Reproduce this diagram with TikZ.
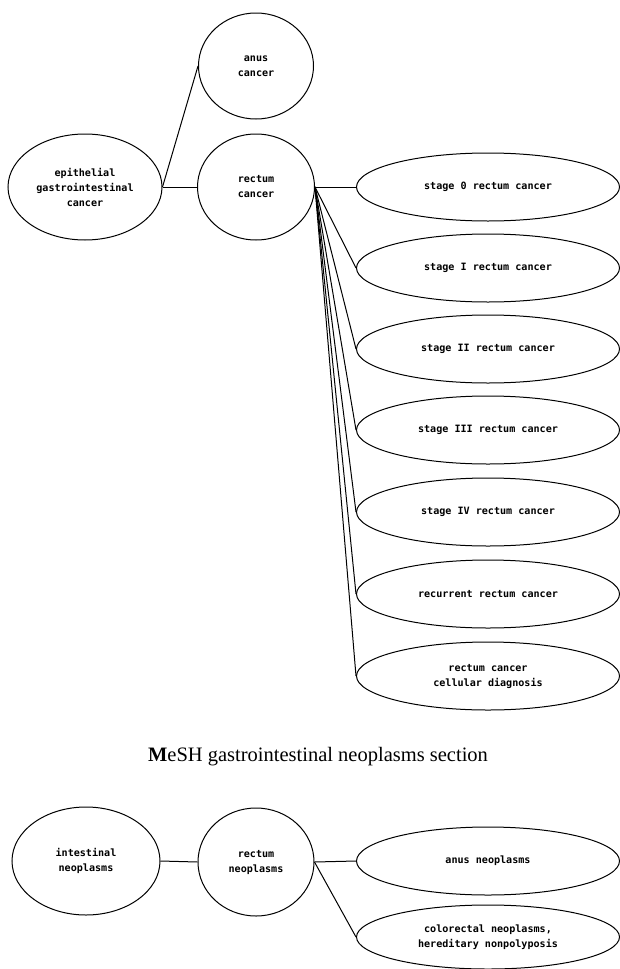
\documentclass[tikz,border=0pt]{standalone}
\usepackage{fontspec}
\setmainfont{Liberation Serif}
\newfontfamily\nodefont{DejaVu Sans Mono}
\usetikzlibrary{shapes.geometric}
\begin{document}
\begin{tikzpicture}[x=1pt,y=-1pt,
  oval/.style={draw, line width=1pt, ellipse, inner sep=0pt, align=center,
    font=\nodefont\bfseries\fontsize{10.1}{15}\selectfont},
  wide/.style={oval, minimum width=263pt, minimum height=68pt},
  link/.style={line width=1pt}]
\useasboundingbox[fill=white] (0,0) rectangle (620,969);
% top section
\node[oval, minimum width=154pt, minimum height=106pt] (epi) at (85,187) {epithelial\\gastrointestinal\\cancer};
\node[oval, minimum width=115pt, minimum height=106pt] (anc) at (256,66) {anus\\cancer};
\node[oval, minimum width=117pt, minimum height=106pt] (rec) at (256,187) {rectum\\cancer};
\node[wide] (s0) at (488,187) {stage 0 rectum cancer};
\node[wide] (s1) at (488,268) {stage I rectum cancer};
\node[wide] (s2) at (488,349) {stage II rectum cancer};
\node[wide] (s3) at (488,430) {stage III rectum cancer};
\node[wide] (s4) at (488,512) {stage IV rectum cancer};
\node[wide] (s5) at (488,594) {recurrent rectum cancer};
\node[wide] (s6) at (488,676) {rectum cancer\\cellular diagnosis};
\draw[link] (epi.east) -- (anc.west);
\draw[link] (epi.east) -- (rec.west);
\foreach \s in {s0,s1,s2,s3,s4,s5,s6} \draw[link] (rec.east) -- (\s.west);
% caption
\node[font=\fontsize{20.5}{24}\selectfont] (cap) at (318,757) {\textbf{M}eSH gastrointestinal neoplasms section};
% bottom section
\node[oval, minimum width=148pt, minimum height=108pt] (int) at (86,861) {intestinal\\neoplasms};
\node[oval, minimum width=116pt, minimum height=108pt] (rn) at (256,862) {rectum\\neoplasms};
\node[wide] (an) at (488,861) {anus neoplasms};
\node[wide, minimum height=64pt] (col) at (488,937) {colorectal neoplasms,\\hereditary nonpolyposis};
\draw[link] (int.east) -- (rn.west);
\draw[link] (rn.east) -- (an.west);
\draw[link] (rn.east) -- (col.west);
\end{tikzpicture}
\end{document}
